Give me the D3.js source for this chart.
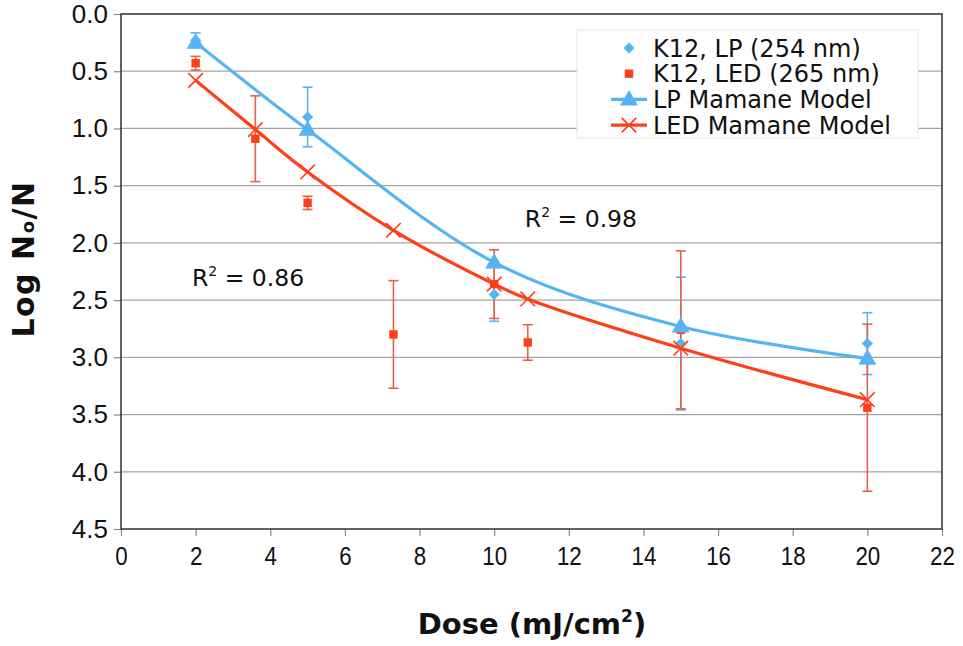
<!DOCTYPE html>
<html>
<head>
<meta charset="utf-8">
<script src="https://cdn.jsdelivr.net/npm/d3@7/dist/d3.min.js"></script>
<style>
  html, body { margin: 0; padding: 0; background: #fff; }
  svg { display: block; font-family: "DejaVu Sans", Verdana, sans-serif; }
</style>
</head>
<body>
<svg id="chart" width="963" height="646"></svg>
<script>
// Measured inactivation (Log No/N) for K12 under the LP lamp (254 nm)
const lpDose = [2, 5, 10, 15, 20];
const lpLog  = [0.23, 0.90, 2.45, 2.88, 2.88];
const lpErr  = [0.065, 0.26, 0.235, 0.58, 0.27];

// Measured inactivation for K12 under the LED (265 nm)
const ledDose = [2, 3.6, 5, 7.3, 10, 10.9, 15, 20];
const ledLog  = [0.43, 1.09, 1.65, 2.80, 2.36, 2.87, 2.76, 3.44];
const ledErr  = [0.06, 0.375, 0.058, 0.47, 0.30, 0.155, 0.69, 0.73];

// Mamane model predictions
const lpModelDose  = [2, 5, 10, 15, 20];
const lpModelLog   = [0.25, 1.01, 2.17, 2.73, 3.01];
const ledModelDose = [2, 3.6, 5, 7.3, 10, 10.9, 15, 20];
const ledModelLog  = [0.58, 1.01, 1.38, 1.89, 2.36, 2.49, 2.92, 3.37];

const xTicks = [0, 2, 4, 6, 8, 10, 12, 14, 16, 18, 20, 22];
const yTicks = [0, 0.5, 1, 1.5, 2, 2.5, 3, 3.5, 4, 4.5];

const legendLabels = ["K12, LP (254 nm)", "K12, LED (265 nm)", "LP Mamane Model", "LED Mamane Model"];
const fitLabels = [{ text: "0.98", x: 10.82, y: 1.86 }, { text: "0.86", x: 1.9, y: 2.38 }];

const BLUE = "#55b4f4";
const RED = "#ff3f17";
const RED_ERR = "#e9604a";
const BLUE_ERR = "#5fb2ec";

const svg = d3.select("#chart");
const plot = { left: 121, top: 14, right: 942, bottom: 529 };

const x = d3.scaleLinear().domain([0, 22]).range([plot.left, plot.right]);
const y = d3.scaleLinear().domain([0, 4.5]).range([plot.top, plot.bottom]);

// Horizontal gridlines
svg.append("g")
  .selectAll("line")
  .data(yTicks.slice(1, -1))
  .join("line")
  .attr("x1", plot.left).attr("x2", plot.right)
  .attr("y1", d => y(d)).attr("y2", d => y(d))
  .attr("stroke", "#a3a3a3").attr("stroke-width", 1.3);

// Axes
const yAxis = svg.append("g")
  .attr("transform", `translate(${plot.left},0)`)
  .call(d3.axisLeft(y).tickValues(yTicks).tickFormat(d3.format(".1f")).tickSize(7).tickPadding(6));
const xAxis = svg.append("g")
  .attr("transform", `translate(0,${plot.bottom})`)
  .call(d3.axisBottom(x).tickValues(xTicks).tickFormat(d3.format("d")).tickSize(7).tickPadding(11));

[yAxis, xAxis].forEach(g => {
  g.select(".domain").remove();
  g.selectAll(".tick line").attr("stroke", "#8a8a8a").attr("stroke-width", 1.2);
  g.selectAll(".tick text").attr("fill", "#111").style("font-size", "26px");
});
// x tick labels are set in a narrower face
xAxis.selectAll(".tick text").attr("transform", "scale(0.86,1)");

// Plot frame
svg.append("rect")
  .attr("x", plot.left).attr("y", plot.top)
  .attr("width", plot.right - plot.left).attr("height", plot.bottom - plot.top)
  .attr("fill", "none").attr("stroke", "#3c3c3c").attr("stroke-width", 1.6);

// Error bars
function errorBars(dose, vals, errs, color) {
  const g = svg.append("g").attr("stroke", color).attr("stroke-width", 1.6).attr("fill", "none");
  dose.forEach((d, i) => {
    const cx = x(d), t = y(vals[i] - errs[i]), b = y(vals[i] + errs[i]);
    g.append("line").attr("x1", cx).attr("x2", cx).attr("y1", t).attr("y2", b);
    g.append("line").attr("x1", cx - 5).attr("x2", cx + 5).attr("y1", t).attr("y2", t);
    g.append("line").attr("x1", cx - 5).attr("x2", cx + 5).attr("y1", b).attr("y2", b);
  });
}
errorBars(lpDose, lpLog, lpErr, BLUE_ERR);
errorBars(ledDose, ledLog, ledErr, RED_ERR);

// Measured points
const diamond = d3.symbol().type(d3.symbolDiamond2).size(80);
const square = d3.symbol().type(d3.symbolSquare2).size(90);
svg.append("g").selectAll("path")
  .data(lpDose.map((d, i) => [d, lpLog[i]]))
  .join("path")
  .attr("d", diamond)
  .attr("transform", d => `translate(${x(d[0])},${y(d[1])})`)
  .attr("fill", BLUE);
svg.append("g").selectAll("path")
  .data(ledDose.map((d, i) => [d, ledLog[i]]))
  .join("path")
  .attr("d", square)
  .attr("transform", d => `translate(${x(d[0])},${y(d[1])})`)
  .attr("fill", RED);

// Model curves
const line = d3.line().x(d => x(d[0])).y(d => y(d[1])).curve(d3.curveCatmullRom.alpha(0.5));
const lpModel = lpModelDose.map((d, i) => [d, lpModelLog[i]]);
const ledModel = ledModelDose.map((d, i) => [d, ledModelLog[i]]);

const triangle = d3.symbol().type(d3.symbolTriangle).size(140);
const cross = d3.symbol().type(d3.symbolX).size(140);

svg.append("path").datum(lpModel).attr("d", line)
  .attr("fill", "none").attr("stroke", BLUE).attr("stroke-width", 3.2);
svg.append("g").selectAll("path").data(lpModel).join("path")
  .attr("d", triangle)
  .attr("transform", d => `translate(${x(d[0])},${y(d[1]) + 1})`)
  .attr("fill", BLUE);

svg.append("path").datum(ledModel).attr("d", line)
  .attr("fill", "none").attr("stroke", RED).attr("stroke-width", 3.2);
svg.append("g").selectAll("path").data(ledModel).join("path")
  .attr("d", cross)
  .attr("transform", d => `translate(${x(d[0])},${y(d[1])})`)
  .attr("fill", "none").attr("stroke", RED).attr("stroke-width", 1.6);

// R² annotations
fitLabels.forEach(f => {
  const t = svg.append("text")
    .attr("x", x(f.x)).attr("y", y(f.y))
    .attr("fill", "#111").style("font-size", "23.5px");
  t.append("tspan").text("R");
  t.append("tspan").attr("dy", -10).style("font-size", "14px").text("2");
  t.append("tspan").attr("dy", 10).text("\u00a0=\u00a0" + f.text);
});

// Legend
const lg = svg.append("g").attr("transform", "translate(577,30)");
lg.append("rect").attr("width", 341).attr("height", 108)
  .attr("fill", "#fff").attr("stroke", "#e6e6e6").attr("stroke-width", 1);
legendLabels.forEach((label, i) => {
  const cy = 18 + i * 25.7;
  const row = lg.append("g").attr("transform", `translate(0,${cy})`);
  if (i === 0) row.append("path").attr("d", diamond).attr("transform", "translate(52,0)").attr("fill", BLUE);
  if (i === 1) row.append("path").attr("d", square).attr("transform", "translate(52,0)").attr("fill", RED);
  if (i === 2) {
    row.append("line").attr("x1", 34).attr("x2", 70).attr("stroke", BLUE).attr("stroke-width", 3.2);
    row.append("path").attr("d", triangle).attr("transform", "translate(52,1)").attr("fill", BLUE);
  }
  if (i === 3) {
    row.append("line").attr("x1", 34).attr("x2", 70).attr("stroke", RED).attr("stroke-width", 3.2);
    row.append("path").attr("d", cross).attr("transform", "translate(52,0)")
      .attr("fill", "none").attr("stroke", RED).attr("stroke-width", 1.6);
  }
  row.append("text").attr("x", 76).attr("y", 8.5)
    .attr("fill", "#111").style("font-size", "24px").text(label);
});

// Axis titles
const yTitle = svg.append("text")
  .attr("transform", "translate(34,259) rotate(-90)")
  .attr("text-anchor", "middle")
  .style("font-size", "30px").style("font-weight", "bold")
  .style("letter-spacing", "1.5px").attr("fill", "#111");
yTitle.append("tspan").text("Log N");
yTitle.append("tspan").style("font-size", "18px").text("o");
yTitle.append("tspan").text("/N");

const xTitle = svg.append("text")
  .attr("x", 532).attr("y", 634)
  .attr("text-anchor", "middle")
  .style("font-size", "29px").style("font-weight", "bold").attr("fill", "#111");
xTitle.append("tspan").text("Dose (mJ/cm");
xTitle.append("tspan").attr("dy", -12).style("font-size", "17px").text("2");
xTitle.append("tspan").attr("dy", 12).text(")");
</script>
</body>
</html>
